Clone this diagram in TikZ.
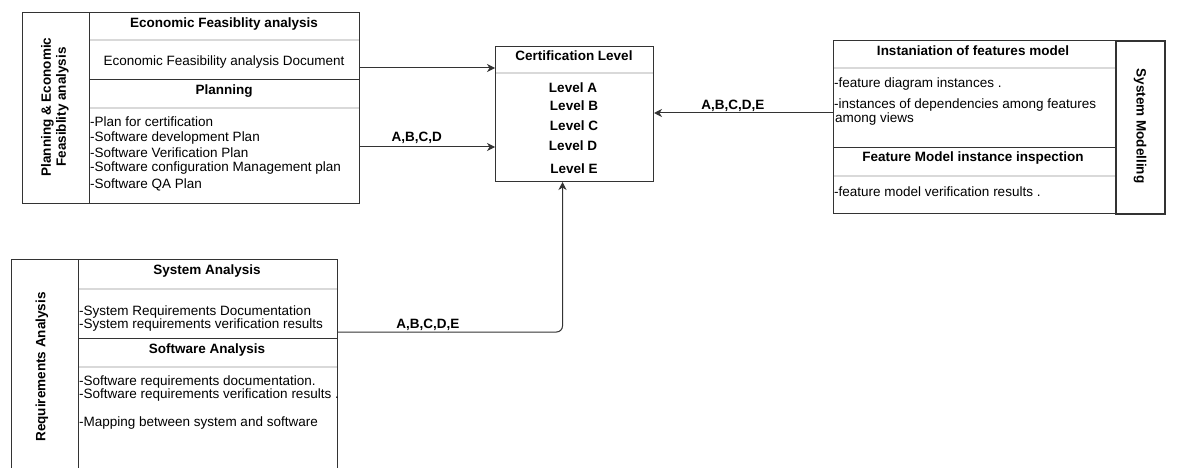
\documentclass[tikz,border=0pt]{standalone}
\usepackage{fontspec}
\setmainfont{Liberation Sans}
\usetikzlibrary{calc,positioning,arrows.meta}
\definecolor{edge}{HTML}{333333}
\definecolor{rule}{HTML}{D9D9D9}
\tikzset{
  sect/.style={draw=edge,line width=1pt,anchor=north west,inner sep=0pt},
  ttl/.style={font=\bfseries\fontsize{13.5}{15}\selectfont,inner sep=0pt,text height=10pt,text depth=3pt},
  itm/.style={font=\fontsize{13.5}{15}\selectfont,anchor=west,inner sep=0pt,text height=10pt,text depth=3pt},
  side/.style={font=\bfseries\fontsize{13.5}{15}\selectfont,align=center,inner sep=0pt},
  lbl/.style={font=\bfseries\fontsize{13.5}{15}\selectfont},
  sepl/.style={draw=rule,line width=1.5pt},
  flow/.style={-{Stealth[length=8pt,width=8pt,inset=2.5pt]},draw=edge,line width=1pt},
}
\begin{document}
\begin{tikzpicture}[x=1pt,y=-1pt]
\useasboundingbox (0,0) rectangle (1186,468);
% planning & economic feasibility
\draw[sepl] (89,40) -- (359,40);
\draw[sepl] (89,108) -- (359,108);
\node[sect,minimum width=67,minimum height=191] (pside) at (22,12) {};
\node[sect,minimum width=270,minimum height=67] (eco) at (89,12) {};
\node[sect,minimum width=270,minimum height=124] (plan) at (89,79) {};
\node[side,rotate=90] at (55,107) {Planning \& Economic\\Feasiblity analysis};
\node[ttl] at (224,24) {Economic Feasiblity analysis};
\node[itm,anchor=center] at (224,62) {Economic Feasibility analysis Document};
\node[ttl] at (224,91) {Planning};
\node[itm] at (90,123) {-Plan for certification};
\node[itm] at (90,138) {-Software development Plan};
\node[itm] at (90,154) {-Software Verification Plan};
\node[itm] at (90,168) {-Software configuration Management plan};
\node[itm] at (90,185) {-Software QA Plan};
% certification level
\draw[sepl] (495,73) -- (653,73);
\node[sect,minimum width=158,minimum height=135] (cert) at (495,46) {};
\node[ttl] at (574,57) {Certification Level};
\node[ttl] at (573,89) {Level A};
\node[ttl] at (574,107) {Level B};
\node[ttl] at (574,127) {Level C};
\node[ttl] at (573,147) {Level D};
\node[ttl] at (574,170) {Level E};
% system modelling
\draw[sepl] (833,68) -- (1115,68);
\draw[sepl] (833,176) -- (1115,176);
\node[sect,minimum width=282,minimum height=107] (feat) at (833,40) {};
\node[sect,minimum width=282,minimum height=66] (insp) at (833,147) {};
\node[sect,line width=1.6pt,minimum width=49,minimum height=173] (sside) at (1115,40) {};
\node[side,rotate=-90] at (1140,126) {System Modelling};
\node[ttl] at (973,52) {Instaniation of features model};
\node[itm] at (834,84) {-feature diagram instances .};
\node[itm] at (834,105) {-instances of dependencies among features};
\node[itm] at (835,119) {among views};
\node[ttl] at (973,158) {Feature Model instance inspection};
\node[itm] at (834,193) {-feature model verification results .};
% requirements analysis
\draw[sepl] (78,289) -- (337,289);
\draw[sepl] (78,367) -- (337,367);
\node[sect,minimum width=67,minimum height=220] (rside) at (11,259) {};
\node[sect,minimum width=259,minimum height=79] (sys) at (78,259) {};
\node[sect,minimum width=259,minimum height=141] (soft) at (78,338) {};
\node[side,rotate=90] at (42,367) {Requirements Analysis};
\node[ttl] at (207,271) {System Analysis};
\node[itm] at (79,312) {-System Requirements Documentation};
\node[itm] at (79,325) {-System requirements verification results};
\node[ttl] at (207,350) {Software Analysis};
\node[itm] at (79,382) {-Software requirements documentation.};
\node[itm] at (79,395) {-Software requirements verification results .};
\node[itm] at (79,423) {-Mapping between system and software};
% connectors
\draw[flow] (eco.east |- 0,68) -- (cert.west |- 0,68);
\draw[flow] (plan.east |- 0,147) -- node[lbl,above,pos=.42]{A,B,C,D} (cert.west |- 0,147);
\draw[flow] (feat.west |- 0,113) -- node[lbl,above,inner sep=1pt,pos=.56]{A,B,C,D,E} (cert.east |- 0,113);
\draw[flow,rounded corners=6] (sys.east |- 0,332) -| node[lbl,above,inner sep=1pt,pos=.2]{A,B,C,D,E} ($(cert.south)+(-12,0)$);
\end{tikzpicture}
\end{document}
